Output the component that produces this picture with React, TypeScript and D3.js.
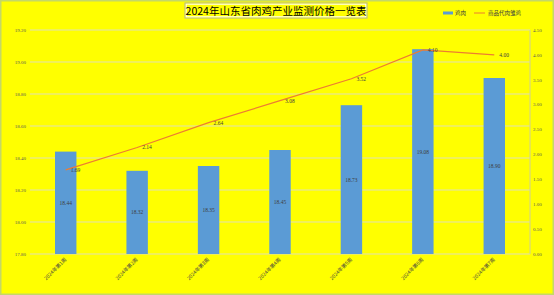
import React from "react";
import * as d3 from "d3";

const categories = ["2024年第1周", "2024年第2周", "2024年第3周", "2024年第4周", "2024年第5周", "2024年第6周", "2024年第7周"];
const chickenMeat = [18.44, 18.32, 18.35, 18.45, 18.73, 19.08, 18.9];
const chicks = [1.69, 2.14, 2.64, 3.08, 3.52, 4.1, 4.0];
const leftTicks = [17.8, 18.0, 18.2, 18.4, 18.6, 18.8, 19.0, 19.2];
const rightTicks = [0, 0.5, 1, 1.5, 2, 2.5, 3, 3.5, 4, 4.5];

const W = 554;
const H = 295;
const plot = { left: 30, right: 530, top: 30, bottom: 254 };
const numFont = "'Liberation Serif', 'DejaVu Serif', serif";
const cjkFont = "'Noto Sans CJK SC', sans-serif";

export default function App() {
  const x = d3
    .scaleBand<string>()
    .domain(categories)
    .range([plot.left, plot.right])
    .padding(0);
  const barW = x.step() * 0.3;
  const yL = d3.scaleLinear().domain([17.8, 19.2]).range([plot.bottom, plot.top]);
  const yR = d3.scaleLinear().domain([0, 4.5]).range([plot.bottom, plot.top]);
  const cx = (c: string) => (x(c) ?? 0) + x.bandwidth() / 2;

  const line = d3
    .line<number>()
    .x((_, i) => cx(categories[i]))
    .y((d) => yR(d));

  return (
    <div style={{ position: "fixed", left: 0, top: 0 }}>
      <svg width={W} height={H} style={{ display: "block" }}>
        <rect x={0.75} y={0.75} width={W - 1.5} height={H - 1.5} fill="#ffff00" stroke="#c4d867" strokeWidth={1.5} />

        {/* title */}
        <rect x={185} y={3} width={182} height={15} fill="none" stroke="#b0b0a0" strokeWidth={1} />
        <rect x={186.2} y={4.2} width={179.6} height={12.6} fill="none" stroke="#ffffff" strokeWidth={1} />
        <text x={276} y={14.5} textAnchor="middle" fontSize={10.5} fontFamily={cjkFont} fill="#000">
          2024年山东省肉鸡产业监测价格一览表
        </text>

        {/* legend */}
        <rect x={443} y={11.5} width={10} height={3} fill="#5b9bd5" />
        <text x={455} y={15} fontSize={5.5} fontFamily={cjkFont} fill="#404040">鸡肉</text>
        <line x1={474} x2={485} y1={13} y2={13} stroke="#ed7d31" strokeWidth={1} />
        <text x={488} y={15} fontSize={5.5} fontFamily={cjkFont} fill="#404040">商品代肉雏鸡</text>

        {/* gridlines */}
        {leftTicks.map((t) => (
          <line key={"g" + t} x1={plot.left} x2={plot.right} y1={yL(t)} y2={yL(t)} stroke="#dcdcc8" strokeWidth={0.9} />
        ))}
        <line x1={plot.right} x2={plot.right} y1={plot.top} y2={plot.bottom} stroke="#c8c8a8" strokeWidth={0.9} />

        {/* left axis labels */}
        {leftTicks.map((t) => (
          <text key={"l" + t} x={26} y={yL(t) + 1.8} textAnchor="end" fontSize={5} fontFamily={numFont} fill="#595959">
            {t.toFixed(2)}
          </text>
        ))}
        {/* right axis labels */}
        {rightTicks.map((t) => (
          <text key={"r" + t} x={533} y={yR(t) + 1.8} fontSize={5} fontFamily={numFont} fill="#595959">
            {t.toFixed(2)}
          </text>
        ))}

        {/* bars */}
        {categories.map((c, i) => (
          <rect key={"b" + c} x={cx(c) - barW / 2} y={yL(chickenMeat[i])} width={barW} height={plot.bottom - yL(chickenMeat[i])} fill="#5b9bd5" />
        ))}
        {categories.map((c, i) => (
          <text key={"bl" + c} x={cx(c)} y={(yL(chickenMeat[i]) + plot.bottom) / 2 + 2} textAnchor="middle" fontSize={5.5} fontFamily={numFont} fill="#404040">
            {chickenMeat[i].toFixed(2)}
          </text>
        ))}

        {/* x labels */}
        {categories.map((c) => (
          <text key={"x" + c} transform={`translate(${cx(c) + 1},${plot.bottom + 6}) rotate(-45)`} textAnchor="end" fontSize={5} fontFamily={cjkFont} fill="#404040">
            {c}
          </text>
        ))}

        {/* line */}
        <path d={line(chicks) ?? ""} fill="none" stroke="#ed7d31" strokeWidth={1.2} />
        {chicks.map((v, i) => (
          <text key={"ll" + i} x={cx(categories[i]) + 5} y={yR(v) + 2} fontSize={5.5} fontFamily={numFont} fill="#404040">
            {v.toFixed(2)}
          </text>
        ))}
      </svg>
    </div>
  );
}
